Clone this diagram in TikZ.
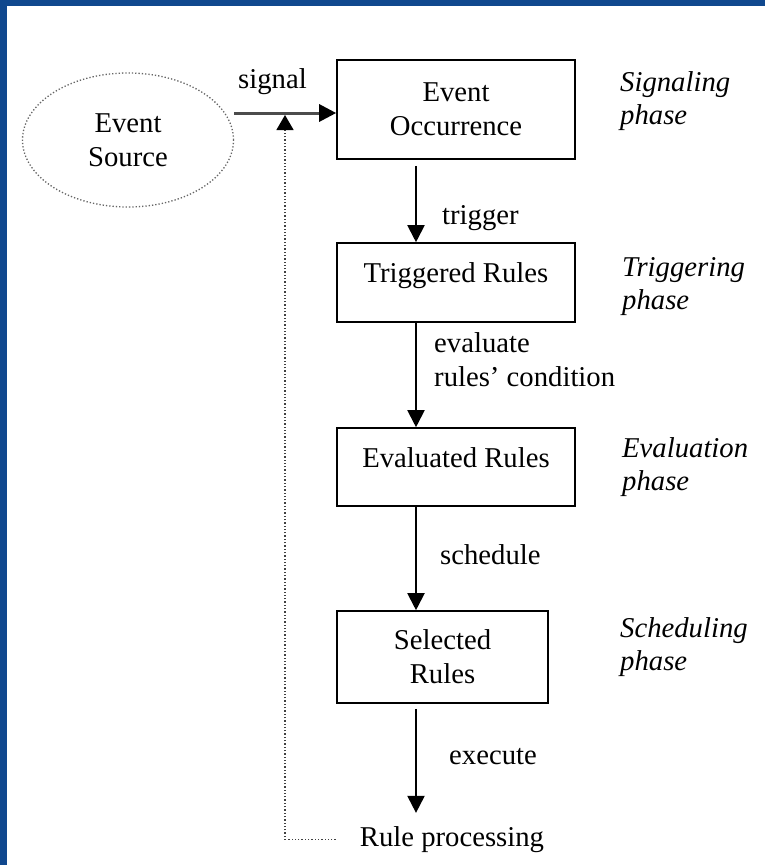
\documentclass[tikz,border=0pt]{standalone}
\usepackage{fontspec}
\setmainfont{Liberation Serif}
\usetikzlibrary{arrows.meta, shapes.geometric}
\definecolor{slideblue}{RGB}{16,72,142}

\begin{document}
\begin{tikzpicture}[x=1pt, y=-1pt,
  every node/.style={font=\fontsize{28.7}{34}\selectfont},
  box/.style={draw, line width=1.6pt, minimum width=238pt, inner sep=0pt},
  flow/.style={line width=2pt, -{Triangle[length=17pt,width=17pt]}},
  phase/.style={font=\fontsize{28.7}{33}\selectfont\itshape, align=left, anchor=base west, inner sep=0pt},
  lbl/.style={anchor=base west, inner sep=0pt, align=left}]
\useasboundingbox (0,0) rectangle (765,865);
\fill[slideblue] (0,0) rectangle (765,865);
\fill[white] (7,6) rectangle (765,865);

\coordinate (ax) at (416,0);
\coordinate (sig) at (285,113);

\node[draw=gray!80!black, dotted, line width=1.3pt, ellipse, minimum width=211pt, minimum height=134pt, align=center] (src) at (128,140) {Event\\Source};
\node[box, minimum height=99pt, align=center] (eo) at (456,109.5) {Event\\Occurrence};
\node[box, minimum height=79pt, text height=10pt, text depth=10pt] (tr) at (456,282.5) {Triggered Rules};
\node[box, minimum height=78pt, text height=10pt, text depth=10pt] (er) at (456,467) {Evaluated Rules};
\node[box, minimum width=211pt, minimum height=92pt, align=center] (sr) at (442.5,657) {Selected\\Rules};
\node[anchor=base, inner sep=4pt] (rp) at (452,846) {Rule processing};

\draw[line width=3pt, gray!60!black, -{Triangle[length=17pt,width=17pt,black]}] (src.east |- sig) -- (eo.west |- sig);
\draw[flow, shorten <=6pt] (eo.south -| ax) -- (tr.north -| ax);
\draw[flow] (tr.south -| ax) -- (er.north -| ax);
\draw[flow] (er.south -| ax) -- (sr.north -| ax);
\draw[flow, shorten <=5pt, shorten >=9pt] (sr.south -| ax) -- (rp.north -| ax);
\draw[dotted, line width=1.3pt, gray!50!black, -{Triangle[length=15pt,width=17pt,black]}, shorten <=20pt, shorten >=2pt] (rp.west) -- (rp.west -| sig) -- (sig);

\node[lbl] (sigl) at (238,88) {signal};
\node[lbl] (trl) at (442,224) {trigger};
\node[lbl] (evl) at (434,386) {evaluate\\rules’ condition};
\node[lbl] (scl) at (440,564) {schedule};
\node[lbl] (exl) at (449,764) {execute};

\node[phase] (sigp) at (620,124) {Signaling\\phase};
\node[phase] (trp) at (622,309) {Triggering\\phase};
\node[phase] (evp) at (622,490) {Evaluation\\phase};
\node[phase] (scp) at (620,670) {Scheduling\\phase};
\end{tikzpicture}
\end{document}
